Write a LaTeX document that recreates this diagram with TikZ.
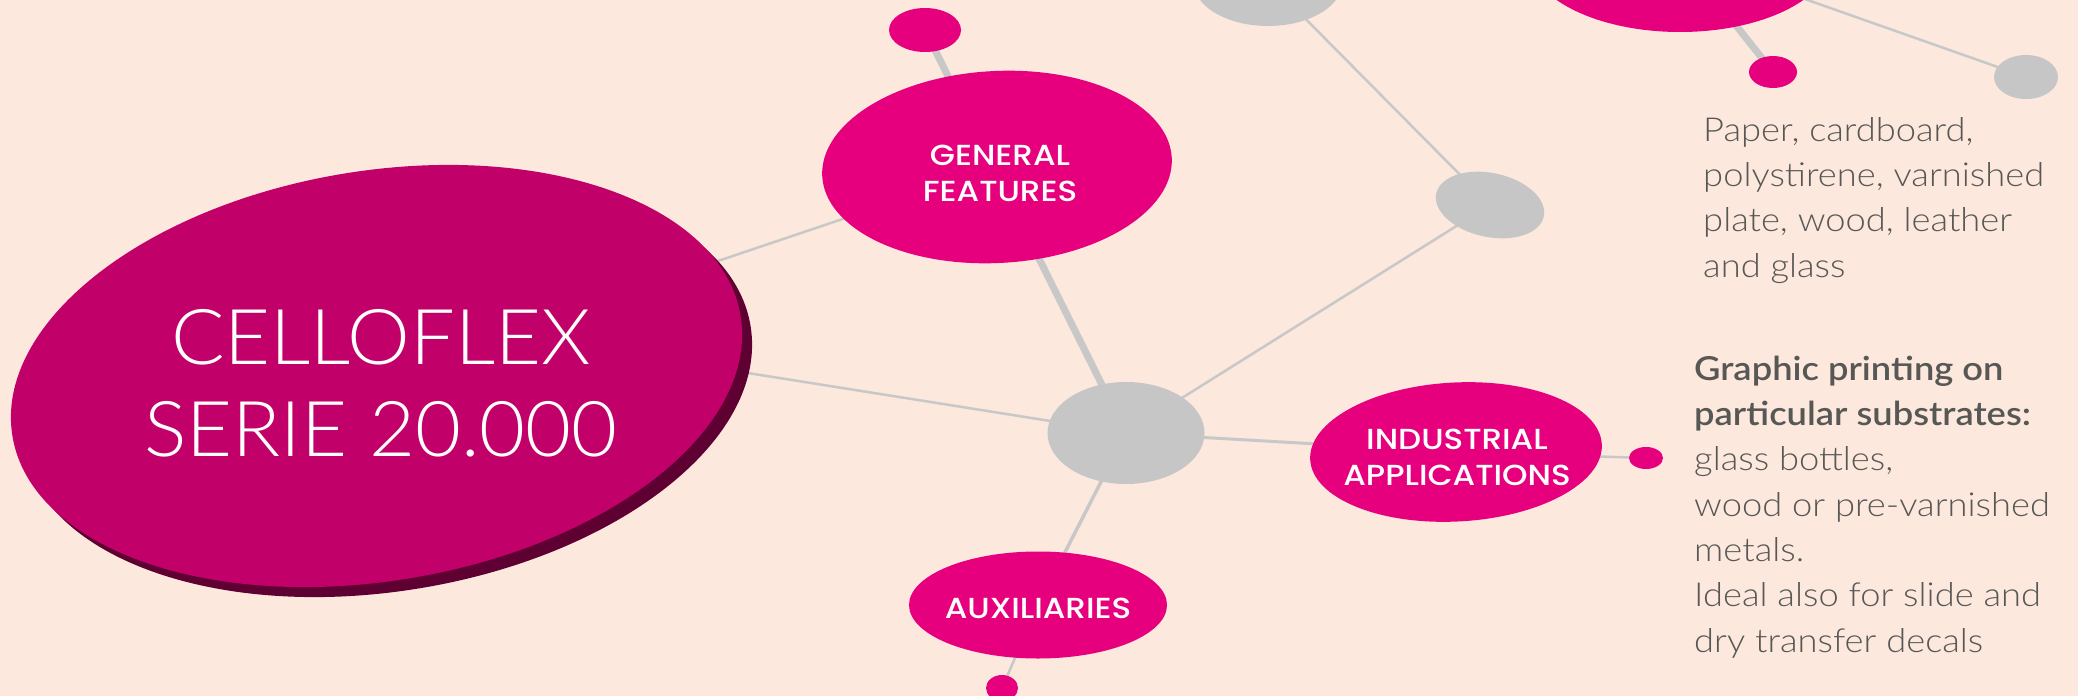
\documentclass[tikz,border=0pt]{standalone}
\usepackage{fontspec}
\setmainfont{Lato}
\IfFontExistsTF{Lato Light}
  {\newfontfamily\lightfont[FakeStretch=1.1]{Lato Light}
   \newfontfamily\bigfont[FakeStretch=1.03]{Lato Light}}
  {\newfontfamily\lightfont[FakeStretch=1.1]{Lato}
   \newfontfamily\bigfont[FakeStretch=1.03]{Lato}}
\IfFontExistsTF{Lato Semibold}
  {\newfontfamily\semifont[FakeStretch=1.1]{Lato Semibold}}
  {\newfontfamily\semifont[FakeStretch=1.1,UprightFont=*-Bold]{Lato}}
\IfFontExistsTF{Poppins Medium}
  {\newfontfamily\popfont[FakeStretch=1.12]{Poppins Medium}}
  {\newfontfamily\popfont[FakeStretch=1.12,FakeBold=0.6]{Poppins}}
\usetikzlibrary{shapes.geometric,backgrounds}
\definecolor{bgc}{HTML}{FCE8DC}
\definecolor{bigc}{HTML}{C2006A}
\definecolor{shadowc}{HTML}{5E0032}
\definecolor{pinkc}{HTML}{E6007E}
\definecolor{grayc}{HTML}{C6C6C6}
\definecolor{linec}{HTML}{C8C8C8}
\definecolor{textc}{HTML}{575756}
\tikzset{
  ell/.style={ellipse, inner sep=0pt, draw=none},
  pinkell/.style={ell, fill=pinkc},
  grayell/.style={ell, fill=grayc},
  lbl/.style={text=white, font=\popfont\fontsize{29}{36}\selectfont, align=center, inner sep=0pt},
  conn/.style={draw=linec, line width=2.5pt},
  connmid/.style={draw=linec, line width=3.5pt},
  connthick/.style={draw=linec, line width=7pt},
  para/.style={text=textc, font=\lightfont\fontsize{33}{45.3}\selectfont, align=left, inner sep=0pt, anchor=base west}
}
\begin{document}
\begin{tikzpicture}[x=1pt,y=1pt]
\useasboundingbox (0,0) rectangle (2078,-696);
% nodes
\node[ell, fill=shadowc, rotate=9.4, minimum width=738, minimum height=410] (bigshadow) at (386.5,-386) {};
\node[ell, fill=bigc, rotate=9.4, minimum width=738, minimum height=410] (big) at (376.5,-376) {};
\coordinate (bigP) at (376,-314);
\node[text=white, font=\bigfont\fontsize{77}{92}\selectfont, align=center, inner sep=0pt] (bigT) at (381,-383) {CELLOFLEX\\SERIE 20.000};

\node[pinkell, rotate=3, minimum width=350, minimum height=192] (gen) at (997,-167) {};
\node[lbl] (genT) at (1000,-173) {GENERAL\\FEATURES};
\node[pinkell, minimum width=72, minimum height=44] (dotA) at (925,-30) {};

\node[grayell, minimum width=157, minimum height=102] (hub) at (1126,-433) {};

\node[pinkell, rotate=3, minimum width=292, minimum height=139] (ind) at (1456,-452) {};
\node[lbl] (indT) at (1457,-457) {INDUSTRIAL\\APPLICATIONS};
\node[pinkell, minimum width=34, minimum height=22] (dotI) at (1646,-458) {};

\node[pinkell, minimum width=258, minimum height=107] (aux) at (1038,-605) {};
\node[lbl] (auxT) at (1038,-608) {AUXILIARIES};
\node[pinkell, minimum width=32, minimum height=26] (dotX) at (1002,-688) {};

\node[grayell, rotate=-12, minimum width=110, minimum height=64] (grayR) at (1490,-205) {};
\node[grayell, minimum width=150, minimum height=90] (grayT) at (1268,19) {};

\node[pinkell, minimum width=304, minimum height=154] (pinkT) at (1680,45) {};
\node[pinkell, minimum width=48, minimum height=32] (dotP) at (1773,-72) {};
\node[grayell, minimum width=64, minimum height=44] (grayD) at (2026,-77) {};

\node[para] (txtA) at (1703,-277) {Paper, cardboard,\\polystirene, varnished\\plate, wood, leather\\and glass};
\node[para] (txtB) at (1694,-652) {{\semifont Graphic printing on}\\{\semifont particular substrates:}\\glass bottles,\\wood or pre-varnished\\metals.\\Ideal also for slide and\\dry transfer decals};

\begin{scope}[on background layer]
\fill[bgc] (0,0) rectangle (2078,-696);
\draw[conn] (big.center) -- (gen.center);
\draw[conn] (bigP) -- (hub.center);
\draw[connthick] (dotA.center) -- (hub.center);
\draw[conn] (grayT.center) -- (grayR.center);
\draw[conn] (hub.center) -- (grayR.center);
\draw[conn, line width=3pt] (hub.center) -- (ind.center);
\draw[conn] (ind.center) -- (dotI.center);
\draw[connmid] (hub.center) -- (aux.center);
\draw[conn] (aux.center) -- (dotX.center);
\draw[connthick] (pinkT.center) -- (dotP.center);
\draw[conn] (pinkT.center) -- (grayD.center);
\end{scope}
\end{tikzpicture}
\end{document}
